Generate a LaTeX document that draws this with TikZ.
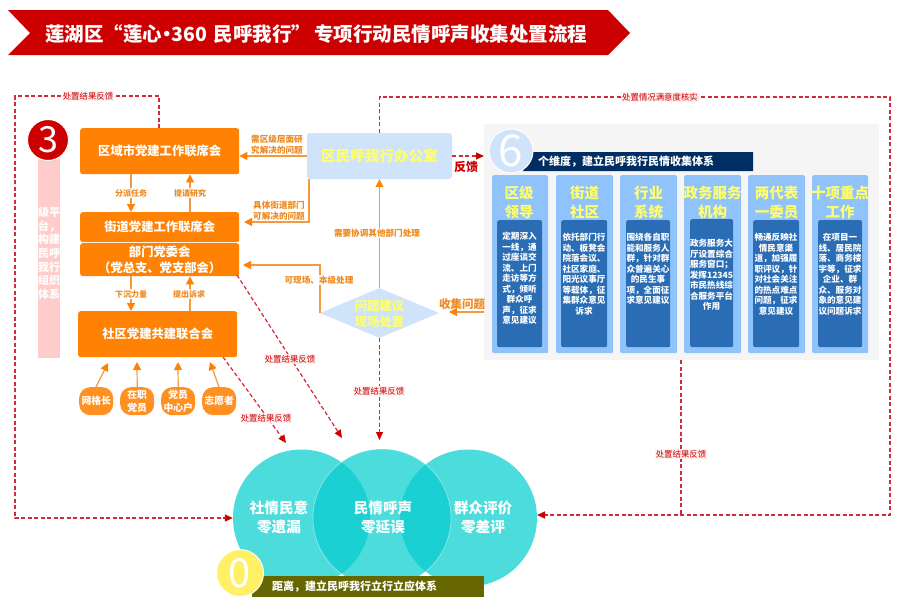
\documentclass[tikz,border=0pt]{standalone}
\usepackage{fontspec}
\setmainfont{Noto Sans CJK SC}
\usetikzlibrary{arrows.meta,shapes.geometric}
\definecolor{org}{HTML}{FF8205}
\definecolor{orgl}{HTML}{F29A3E}
\definecolor{orgt}{HTML}{EE8A20}
\definecolor{rd}{HTML}{CC0000}
\definecolor{rdl}{HTML}{CF2B3C}
\definecolor{pale}{HTML}{CFE4FB}
\definecolor{ylw}{HTML}{FFFF6E}
\definecolor{colo}{HTML}{90C3FB}
\definecolor{coli}{HTML}{2A6DB4}
\definecolor{navy}{HTML}{002E63}
\definecolor{teal}{HTML}{4CDCDC}
\definecolor{tealb}{HTML}{1AD0D2}
\definecolor{olivebar}{HTML}{666600}
\definecolor{zero}{HTML}{FFF066}
\newcommand{\fs}[2]{\fontsize{#1}{#2}\selectfont}
\tikzset{
  x=1pt,y=-1pt,
  orgbox/.style={draw=none,fill=org,rounded corners=2.5pt,text=white,font=\bfseries\fs{12.3}{16},align=center,inner sep=0pt,anchor=north west},
  oval/.style={fill=org!88!white,rounded corners=11pt,text=white,font=\bfseries\fs{9.8}{12.5},align=center,inner sep=0pt,anchor=north west,text width=34pt,minimum height=28pt},
  oline/.style={draw=orgl,line width=1.2pt,-{Triangle[width=8pt,length=8pt,color=org]}},
  rline/.style={draw=rdl,line width=1.2pt,dash pattern=on 4pt off 2.5pt,-{Triangle[width=7pt,length=8pt,color=rd]}},
  rplain/.style={draw=rdl,line width=1.2pt,dash pattern=on 4pt off 2.5pt},
  olab/.style={fill=white,fill opacity=.85,text opacity=1,text=orgt,font=\bfseries\fs{8.6}{10.7},align=center,inner sep=1pt,line width=0pt},
  olabs/.style={olab,font=\bfseries\fs{8}{10}},
  rlab/.style={fill=red!6,fill opacity=.9,text opacity=1,text=rd,font=\fs{8.4}{10},inner sep=1pt},
  colout/.style={fill=colo,rounded corners=2pt,anchor=north west,inner sep=0pt},
  colin/.style={fill=coli,rounded corners=2pt,anchor=north west,inner sep=0pt},
  colhead/.style={text=ylw,font=\bfseries\fs{14.5}{19},align=center,inner sep=0pt},
  coltext/.style={text=white,font=\bfseries\fs{8.6}{10.5},align=center,inner sep=0pt,anchor=north},
  cirtext/.style={text=white,font=\bfseries\fs{14.6}{19},align=center,inner sep=0pt},
}
\begin{document}
\begin{tikzpicture}
\useasboundingbox (0,0) rectangle (900,605);
\fill[white] (0,0) rectangle (900,605);
% title
\fill[rd] (8,10) -- (608,10) -- (630,33) -- (608,55) -- (8,55) -- (30,33) -- cycle;
\node[text=white,font=\bfseries\fs{19.5}{22},anchor=west,inner sep=0pt] (title) at (45,34) {莲湖区“莲心\kern-5pt•\kern-5pt360\kern2pt\ 民呼我行”\kern3pt 专项行动民情呼声收集处置流程};
% strip
\node[fill=red!20,anchor=north west,minimum width=22pt,minimum height=203pt,inner sep=0pt] (strip) at (38,155) {};
\node[text=white,font=\bfseries\fs{11}{13.6},align=center,inner sep=0pt,anchor=north] (striptext) at (49,207) {级平\\台，\\构建\\民呼\\我行\\组织\\体系};
\node[circle,fill=rd,draw=white,line width=1pt,minimum size=41pt,inner sep=0pt,text=white,font=\fs{36}{36}] (three) at (48,140) {3};
% org boxes
\node[orgbox,minimum width=159pt,minimum height=46pt] (city) at (80,128) {区域市党建工作联席会};
\node[orgbox,minimum width=159pt,minimum height=30pt] (street) at (80,212) {街道党建工作联席会};
\node[orgbox,minimum width=159pt,minimum height=33pt] (dept) at (80,243) {部门党委会\\（党总支、党支部会）};
\node[orgbox,minimum width=159pt,minimum height=46pt] (comm) at (78,311) {社区党建共建联合会};
% ovals
\node[oval] (o1) at (79,387) {网格长};
\node[oval] (o2) at (120,387) {在职\\党员};
\node[oval] (o3) at (161,387) {党员\\中心户};
\node[oval] (o4) at (202,387) {志愿者};
\coordinate (e1) at (108,363);
\coordinate (e2) at (137,362);
\coordinate (e3) at (178,362);
\coordinate (e4) at (210,362);
\coordinate (s1) at (96,387);
\coordinate (s4) at (219,387);
\draw[oline] (s1) -- (e1);
\draw[oline] (o2.north) -- (e2);
\draw[oline] (o3.north) -- (e3);
\draw[oline] (s4) -- (e4);
% vertical arrows
\coordinate (va) at (131,0);
\coordinate (vb) at (190,0);
\draw[oline] (va |- city.south) -- (va |- street.north);
\draw[oline] (vb |- street.north) -- (vb |- city.south);
\draw[oline] (va |- dept.south) -- (va |- comm.north);
\draw[oline] (vb |- comm.north) -- (vb |- dept.south);
\node[olabs] (l1) at (131,193) {分派任务};
\node[olabs] (l2) at (190,193) {提请研究};
\node[olabs] (l3) at (131,294) {下沉力量};
\node[olabs] (l4) at (189,294) {提出诉求};
% panel
\node[fill=black!4,anchor=north west,minimum width=395pt,minimum height=236pt,inner sep=0pt] (panel) at (484,124) {};
% office & diamond
\node[fill=pale,rounded corners=3pt,text=ylw,font=\bfseries\fs{14.6}{18},minimum width=145pt,minimum height=46pt,inner sep=0pt] (office) at (379.5,156) {区民呼我行办公室};
\node[diamond,fill=pale,aspect=2.38,minimum width=119pt,minimum height=50pt,inner sep=0pt] (diam) at (379.5,313) {};
\node[text=ylw,font=\bfseries\fs{12.3}{15.5},align=center,inner sep=0pt] (diamt) at (379.5,314) {问题建议\\现场处置};
\draw[oline] (office.west) -- (office.west -| city.east);
\coordinate (c2a) at (309,179);
\coordinate (c2b) at (244,222);
\draw[oline] (c2a) |- (c2b);
\coordinate (c3b) at (243,265);
\coordinate (c3a) at (320,313);
\draw[oline] (c3a) |- (c3b);
\draw[oline] (diam.north) -- (office.south);
\coordinate (ce) at (484,312);
\coordinate (cd) at (449,312);
\draw[oline] (ce) -- (cd);
\node[olab,fill=none] (m1) at (277,144.5) {需区级层面研\\究解决的问题};
\node[olab,fill=none] (m2) at (279,210.5) {具体街道部门\\可解决的问题};
\node[olab] (m3) at (319,280) {可现场、本级处理};
\node[olab] (m4) at (377,233) {需要协调其他部门处理};
\node[text=orgt,font=\bfseries\fs{11.5}{14},inner sep=0pt] (collect) at (462,304) {收集问题};
\fill[navy] (532,152) -- (753,152) -- (753,171) -- (523,171) -- cycle;
\node[text=white,font=\bfseries\fs{11}{13},anchor=west,inner sep=0pt] (bar6) at (538,162) {个维度，建立民呼我行民情收集体系};
\node[circle,fill=pale,draw=white,line width=1pt,minimum size=44pt,inner sep=0pt,text=white,font=\fs{44}{44}] (six) at (511,151) {6};
% columns
\node[colout,minimum width=56pt,minimum height=178pt] (c1) at (492,175) {};
\node[colout,minimum width=57pt,minimum height=178pt] (c2) at (556,175) {};
\node[colout,minimum width=57pt,minimum height=178pt] (c3) at (620,175) {};
\node[colout,minimum width=57pt,minimum height=178pt] (c4) at (684,175) {};
\node[colout,minimum width=57pt,minimum height=178pt] (c5) at (748,175) {};
\node[colout,minimum width=56pt,minimum height=178pt] (c6) at (812,175) {};
\node[colin,minimum width=45pt,minimum height=127pt] (i1) at (497,220) {};
\node[colin,minimum width=46pt,minimum height=127pt] (i2) at (561,220) {};
\node[colin,minimum width=44pt,minimum height=127pt] (i3) at (626,220) {};
\node[colin,minimum width=43pt,minimum height=128pt] (i4) at (690,219) {};
\node[colin,minimum width=46pt,minimum height=127pt] (i5) at (753,220) {};
\node[colin,minimum width=44pt,minimum height=127pt] (i6) at (818,220) {};
\node[colhead] (h1) at (519,202.5) {区级\\领导};
\node[colhead] (h2) at (584.5,202.5) {街道\\社区};
\node[colhead] (h3) at (648.5,202.5) {行业\\系统};
\node[colhead] (h4) at (712.5,202.5) {政务服务\\机构};
\node[colhead] (h5) at (776.5,202.5) {两代表\\一委员};
\node[colhead] (h6) at (840,202.5) {十项重点\\工作};
\node[coltext] (t1) at (519.5,232) {定期深入\\一线，通\\过座谈交\\流、上门\\走访等方\\式，倾听\\群众呼\\声，征求\\意见建议};
\node[coltext] (t2) at (584,233) {依托部门行\\动、板凳会\\院落会议、\\社区家庭、\\阳光议事厅\\等载体，征\\集群众意见\\诉求};
\node[coltext] (t3) at (648,233) {围绕各自职\\能和服务人\\群，针对群\\众普遍关心\\的民生事\\项，全面征\\求意见建议};
\node[coltext] (t4) at (711.5,239) {政务服务大\\厅设置综合\\服务窗口；\\发挥12345\\市民热线综\\合服务平台\\作用};
\node[coltext] (t5) at (776,233) {畅通反映社\\情民意渠\\道，加强履\\职评议，针\\对社会关注\\的热点难点\\问题，征求\\意见建议};
\node[coltext] (t6) at (840,233) {在项目一\\线、居民院\\落、商务楼\\宇等，征求\\企业、群\\众、服务对\\象的意见建\\议问题诉求};
% circles
\node[circle,fill=teal,minimum size=137pt,inner sep=0pt] (cl) at (301.5,518) {};
\node[circle,fill=teal,minimum size=137pt,inner sep=0pt] (cr) at (468.5,518) {};
\node[circle,fill=teal,minimum size=138pt,inner sep=0pt] (cm) at (382,518) {};
\begin{scope}
\clip (382,518) circle (69);
\fill[tealb] (301.5,518) circle (68.5);
\fill[tealb] (468.5,518) circle (68.5);
\end{scope}
\draw[white,opacity=.5,line width=.6pt] (382,518) circle (69);
\node[cirtext] (ct1) at (279,517.5) {社情民意\\零遗漏};
\node[cirtext] (ct2) at (383,517.5) {民情呼声\\零延误};
\node[cirtext] (ct3) at (483,517.5) {群众评价\\零差评};
% zero bar
\node[fill=olivebar,anchor=north west,minimum width=232pt,minimum height=21pt,inner sep=0pt] (bar0) at (252,576) {};
\node[circle,fill=zero,draw=white,line width=1pt,minimum size=47pt,inner sep=0pt,text=white,font=\fs{40}{40}] (zeroc) at (240,573) {0};
\node[text=white,font=\bfseries\fs{11}{13},anchor=west,inner sep=0pt] (bar0t) at (272,587) {距离，建立民呼我行立行立应体系};
% dashed connectors
\coordinate (d1) at (15,96);
\coordinate (d2) at (15,518);
\coordinate (d3) at (159,96);
\draw[rline] (city.north -| d3) -- (d3) -- (d1) -- (d2) -- (cl.west);
\node[rlab] (r1) at (88,96) {处置结果反馈};
\coordinate (f1) at (379.5,97);
\coordinate (f2) at (890,97);
\coordinate (f3) at (890,515);
\coordinate (f4) at (537,515);
\coordinate (f5) at (681,515);
\draw[rline] (office.north) -- (f1) -- (f2) -- (f3) -- (f4);
\draw[rplain] (panel.south -| f5) -- (f5);
\node[rlab] (r2) at (660,97) {处置情况满意度核实};
\node[rlab] (r3) at (681,454) {处置结果反馈};
\draw[rline] (office.east) -- (panel.west |- office.east);
\node[text=rd,font=\bfseries\fs{12}{14},inner sep=0pt] (fk) at (466,167) {反馈};
\coordinate (g1) at (237,275);
\coordinate (g2) at (342,438);
\coordinate (g3) at (223,357);
\coordinate (g4) at (286,443);
\coordinate (g5) at (379.5,440);
\draw[rline] (g1) -- (g2);
\draw[rline] (g3) -- (g4);
\draw[rline] (diam.south) -- (g5);
\node[rlab] (r4) at (290,359) {处置结果反馈};
\node[rlab] (r5) at (266,418) {处置结果反馈};
\node[rlab] (r6) at (379,391) {处置结果反馈};
\end{tikzpicture}
\end{document}
